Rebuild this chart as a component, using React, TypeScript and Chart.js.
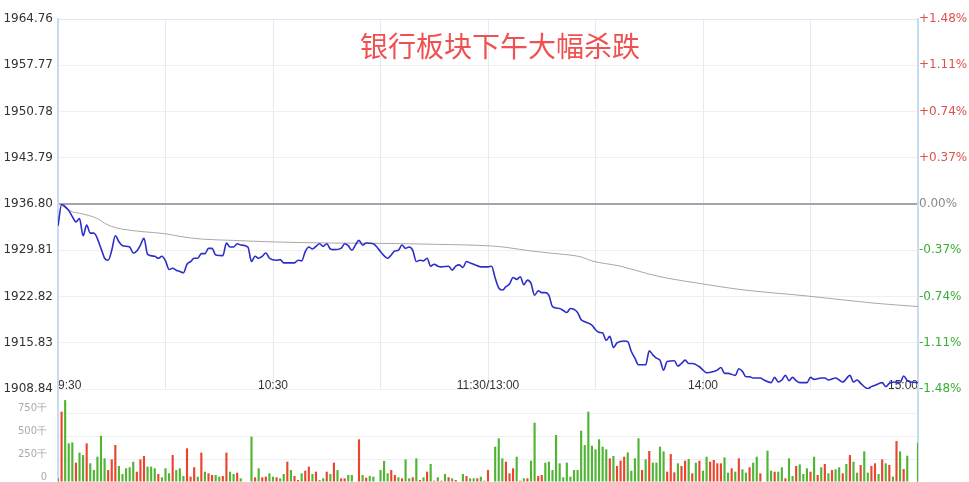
import React, { useEffect, useRef } from 'react';
import { Chart, registerables } from 'chart.js';

Chart.register(...registerables);

// minutes since 9:30 (lunch break removed), 0..240
const priceMinutes = [
  0, 1, 3, 4, 5, 6, 7, 8, 9, 10, 12, 13, 14, 15, 16, 17, 18, 20, 21, 22, 23, 24, 25, 27, 28, 29,
  30, 31, 32, 33, 34, 35, 36, 37, 38, 39, 40, 41, 42, 43, 44, 46, 47, 48, 49, 50, 51, 53, 54, 55,
  56, 57, 58, 59, 61, 62, 63, 65, 66, 67, 68, 69, 70, 71, 72, 73, 74, 75, 76, 77, 79, 80, 81, 82,
  83, 84, 85, 86, 88, 89, 90, 92, 93, 94, 95, 96, 97, 98, 99, 100, 101, 102, 103, 104, 105, 106,
  107, 109, 110, 111, 112, 113, 114, 115, 116, 118, 120, 121, 122, 123, 124, 125, 126, 127, 128,
  129, 130, 131, 132, 133, 134, 135, 136, 137, 138, 140, 141, 142, 143, 145, 146, 147, 149, 150,
  151, 152, 153, 154, 155, 156, 158, 159, 160, 161, 162, 164, 165, 166, 167, 168, 169, 170, 172,
  173, 174, 175, 176, 177, 179, 180, 181, 183, 184, 185, 186, 187, 189, 190, 191, 192, 193, 194,
  196, 197, 199, 200, 201, 202, 203, 204, 205, 206, 207, 209, 210, 211, 213, 214, 215, 217, 218,
  219, 221, 222, 223, 224, 226, 227, 228, 230, 231, 232, 234, 235, 236, 237, 238, 240,
];
const priceValues = [
  1933.5, 1936.7, 1935.8, 1934.9, 1934.1, 1934.6, 1932.0, 1933.6, 1932.4, 1932.4, 1930.1, 1928.6,
  1928.3, 1929.8, 1932.0, 1931.1, 1930.5, 1930.3, 1929.4, 1929.7, 1930.6, 1931.6, 1929.2, 1928.9,
  1928.6, 1928.9, 1928.2, 1926.9, 1927.1, 1926.8, 1926.6, 1926.4, 1927.7, 1928.1, 1928.6, 1928.6,
  1929.3, 1929.3, 1930.1, 1930.1, 1929.1, 1929.0, 1930.9, 1930.3, 1930.3, 1930.8, 1930.6, 1930.3,
  1928.1, 1928.9, 1928.6, 1928.9, 1929.4, 1928.6, 1928.3, 1928.4, 1927.9, 1927.9, 1927.9, 1928.3,
  1928.2, 1929.6, 1930.3, 1930.0, 1930.4, 1930.8, 1930.4, 1930.8, 1930.0, 1929.9, 1930.1, 1930.8,
  1930.5, 1929.8, 1930.6, 1931.3, 1930.6, 1930.9, 1930.8, 1930.3, 1929.6, 1928.6, 1929.1, 1929.7,
  1929.8, 1930.6, 1930.1, 1930.3, 1929.8, 1928.1, 1928.3, 1928.2, 1928.6, 1927.4, 1927.7, 1927.4,
  1927.3, 1927.4, 1926.8, 1927.4, 1927.6, 1927.2, 1928.1, 1927.9, 1927.7, 1927.3, 1927.3, 1927.4,
  1925.6, 1924.1, 1923.8, 1924.3, 1924.7, 1925.7, 1925.4, 1925.8, 1924.6, 1925.3, 1924.8, 1923.0,
  1923.7, 1923.4, 1923.4, 1923.0, 1921.3, 1921.0, 1920.7, 1920.4, 1921.0, 1920.4, 1919.3, 1919.0,
  1918.5, 1917.8, 1917.4, 1917.3, 1916.2, 1916.8, 1915.1, 1915.8, 1916.1, 1916.0, 1914.5, 1913.5,
  1912.5, 1912.5, 1914.6, 1914.0, 1913.5, 1913.2, 1911.7, 1913.0, 1913.1, 1912.3, 1912.7, 1913.2,
  1912.7, 1912.7, 1912.2, 1911.7, 1911.3, 1911.5, 1911.7, 1912.1, 1911.2, 1911.2, 1910.9, 1911.9,
  1911.5, 1910.7, 1910.7, 1910.5, 1910.5, 1910.2, 1909.8, 1910.6, 1909.9, 1910.2, 1910.9, 1910.1,
  1910.6, 1910.1, 1909.8, 1909.8, 1910.6, 1910.3, 1910.5, 1910.5, 1910.2, 1910.5, 1910.2, 1909.9,
  1910.9, 1909.9, 1910.2, 1909.7, 1908.9, 1909.2, 1909.4, 1909.8, 1909.2, 1909.7, 1909.9, 1909.8,
  1910.8, 1910.1, 1909.9, 1909.8,
];

const avgMinutes = [
  1, 4, 6, 11, 13, 15, 18, 24, 30, 34, 40, 49, 58, 76, 90, 106, 121, 125, 132, 138, 146, 149, 157,
  165, 170, 179, 190, 209, 228, 240,
];
const avgValues = [
  1936.6, 1935.6, 1935.4, 1934.6, 1933.9, 1933.4, 1933.0, 1932.6, 1932.3, 1931.9, 1931.5, 1931.3,
  1931.1, 1930.9, 1930.85, 1930.7, 1930.45, 1930.25, 1929.7, 1929.35, 1928.8, 1928.2, 1927.4,
  1926.2, 1925.6, 1924.8, 1923.9, 1922.9, 1921.8, 1921.3,
];

const priceTicks = [1908.84, 1915.83, 1922.82, 1929.81, 1936.8, 1943.79, 1950.78, 1957.77, 1964.76];
const prevClose = 1936.8;
const pctTicks = [-1.48, -1.11, -0.74, -0.37, 0, 0.37, 0.74, 1.11, 1.48];
const timeTickValues = [0, 30, 60, 90, 120, 150, 180, 210, 240];
const timeTickLabels = ['9:30', '', '10:30', '', '11:30/13:00', '', '14:00', '', '15:00'];

// volume per minute, in 千
const volumes = [
  40, 765, 890, 420, 430, 210, 320, 293, 420, 203, 130, 275, 503, 257, 130, 246, 402, 174, 87, 149,
  160, 221, 112, 246, 283, 167, 167, 149, 87, 51, 149, 94, 293, 130, 149, 65, 366, 58, 160, 58,
  320, 112, 94, 76, 76, 58, 65, 320, 112, 87, 101, 40, 0, 0, 493, 51, 149, 51, 58, 94,
  58, 51, 40, 87, 221, 130, 65, 22, 94, 123, 167, 87, 112, 22, 40, 112, 87, 210, 130, 40,
  40, 76, 76, 0, 464, 76, 47, 65, 58, 0, 130, 228, 94, 130, 76, 51, 40, 246, 40, 51,
  257, 22, 51, 112, 196, 14, 51, 14, 87, 51, 40, 22, 0, 87, 65, 40, 40, 40, 58, 14,
  130, 0, 384, 475, 257, 221, 94, 149, 275, 14, 40, 40, 232, 645, 65, 76, 210, 221, 130, 511,
  203, 51, 210, 58, 130, 130, 558, 402, 765, 395, 355, 464, 384, 355, 257, 283, 174, 232, 275, 322,
  123, 257, 475, 130, 246, 337, 210, 210, 384, 333, 112, 304, 105, 203, 174, 232, 250, 94, 210, 232,
  123, 275, 221, 239, 203, 203, 268, 101, 149, 112, 257, 138, 101, 160, 210, 275, 94, 0, 340, 123,
  112, 112, 160, 40, 257, 65, 174, 192, 87, 149, 112, 275, 76, 160, 196, 94, 130, 138, 160, 94,
  196, 293, 221, 101, 185, 333, 101, 174, 203, 87, 246, 203, 185, 58, 446, 333, 141, 286, 0, 0,
  427,
];
// 1 = price rose (red), 0 = price fell (green)
const volumeUp = [
  0, 1, 0, 0, 0, 1, 0, 0, 1, 0, 0, 0, 0, 0, 1, 1, 1, 0, 0, 0,
  0, 0, 1, 1, 1, 0, 0, 0, 1, 0, 0, 0, 1, 0, 0, 0, 1, 1, 1, 0,
  1, 0, 1, 1, 0, 0, 1, 1, 0, 0, 1, 0, 0, 0, 0, 1, 0, 1, 1, 0,
  0, 1, 0, 0, 1, 0, 1, 1, 0, 1, 1, 0, 1, 0, 0, 1, 0, 1, 0, 1,
  1, 0, 0, 0, 1, 0, 1, 0, 0, 0, 0, 0, 0, 1, 1, 0, 1, 0, 0, 1,
  0, 1, 0, 1, 0, 1, 0, 1, 0, 1, 0, 1, 0, 0, 1, 0, 0, 1, 0, 0,
  1, 0, 0, 0, 0, 1, 1, 1, 0, 1, 0, 1, 0, 0, 1, 1, 0, 0, 0, 0,
  0, 0, 0, 0, 0, 0, 0, 0, 0, 0, 0, 0, 0, 0, 1, 0, 1, 1, 1, 0,
  0, 0, 0, 1, 0, 1, 0, 0, 0, 0, 1, 1, 1, 0, 1, 1, 0, 1, 0, 1,
  0, 0, 1, 1, 1, 1, 0, 0, 1, 0, 1, 0, 0, 1, 0, 0, 1, 0, 0, 0,
  1, 0, 0, 1, 0, 0, 1, 0, 0, 0, 1, 0, 1, 0, 1, 0, 1, 0, 0, 1,
  0, 1, 0, 0, 1, 0, 0, 1, 1, 0, 1, 0, 1, 0, 1, 0, 1, 0, 0, 0,
  0,
];
const volTicks = [0, 250, 500, 750];
const volTickLabels = ['0', '250千', '500千', '750千'];

const TITLE = '银行板块下午大幅杀跌';

const AXIS_BLUE = '#c9dbef';
const RED = '#e9452f';
const GREEN = '#4fb532';

const noPad = (s: any) => {
  s.paddingTop = 0;
  s.paddingBottom = 0;
  s.paddingLeft = 0;
  s.paddingRight = 0;
};

export default function App() {
  const priceRef = useRef<HTMLCanvasElement>(null);
  const volRef = useRef<HTMLCanvasElement>(null);

  useEffect(() => {
    const priceChart = new Chart(priceRef.current as HTMLCanvasElement, {
      type: 'line',
      data: {
        datasets: [
          {
            label: 'price',
            data: priceMinutes.map((m, i) => ({ x: m, y: priceValues[i] })),
            borderColor: '#2c2ec8',
            borderWidth: 1.6,
            pointRadius: 0,
            cubicInterpolationMode: 'monotone',
            yAxisID: 'y',
          },
          {
            label: 'avg',
            data: avgMinutes.map((m, i) => ({ x: m, y: avgValues[i] })),
            borderColor: '#a8a8a8',
            borderWidth: 1,
            pointRadius: 0,
            cubicInterpolationMode: 'monotone',
            yAxisID: 'y',
          },
        ],
      },
      options: {
        animation: false,
        responsive: true,
        maintainAspectRatio: false,
        layout: { padding: { top: 19, left: 0, right: 0, bottom: 0 } },
        plugins: { legend: { display: false }, tooltip: { enabled: false } },
        scales: {
          x: {
            type: 'linear',
            min: 0,
            max: 240,
            afterBuildTicks: (s: any) => {
              s.ticks = timeTickValues.map((v) => ({ value: v }));
            },
            afterFit: (s: any) => {
              s.height = 11;
              noPad(s);
            },
            grid: { color: '#e2eaf3', drawTicks: false },
            border: { display: false },
            ticks: {
              autoSkip: false,
              maxRotation: 0,
              align: 'inner',
              mirror: true,
              padding: -4,
              color: '#333',
              font: { family: 'Liberation Sans', size: 12 },
              callback: (_v: any, i: number) => timeTickLabels[i],
            },
          },
          y: {
            position: 'left',
            min: priceTicks[0],
            max: priceTicks[priceTicks.length - 1],
            afterBuildTicks: (s: any) => {
              s.ticks = priceTicks.map((v) => ({ value: v }));
            },
            afterFit: (s: any) => {
              s.width = 58;
              noPad(s);
            },
            grid: {
              drawTicks: false,
              color: (ctx: any) =>
                Math.abs(ctx.tick.value - prevClose) < 1e-6
                  ? '#a4a4ac'
                  : ctx.index === priceTicks.length - 1
                  ? '#dbe6f2'
                  : '#efefef',
              lineWidth: (ctx: any) => (Math.abs(ctx.tick.value - prevClose) < 1e-6 ? 2 : 1),
            },
            border: { color: AXIS_BLUE, width: 2 },
            ticks: {
              padding: 5,
              color: '#333',
              font: { family: 'DejaVu Sans', size: 12 },
              callback: (v: any) => Number(v).toFixed(2),
            },
          },
          yPct: {
            position: 'right',
            min: pctTicks[0],
            max: pctTicks[pctTicks.length - 1],
            afterBuildTicks: (s: any) => {
              s.ticks = pctTicks.map((v) => ({ value: v }));
            },
            afterFit: (s: any) => {
              s.width = 51;
              noPad(s);
            },
            grid: { display: false, drawTicks: false },
            border: { color: AXIS_BLUE, width: 2 },
            ticks: {
              padding: 1,
              font: { family: 'DejaVu Sans', size: 12 },
              color: (ctx: any) =>
                ctx.tick.value > 1e-6 ? '#d9534f' : ctx.tick.value < -1e-6 ? '#3aad34' : '#8a8a8a',
              callback: (v: any) => {
                const n = Number(v);
                return (n > 1e-6 ? '+' : '') + n.toFixed(2) + '%';
              },
            },
          },
        },
      } as any,
    });

    const volChart = new Chart(volRef.current as HTMLCanvasElement, {
      type: 'bar',
      data: {
        labels: volumes.map((_, i) => String(i)),
        datasets: [
          {
            label: 'volume',
            data: volumes,
            backgroundColor: volumeUp.map((u) => (u ? RED : GREEN)),
            barPercentage: 0.6,
            categoryPercentage: 1,
            yAxisID: 'y',
          },
        ],
      },
      options: {
        animation: false,
        responsive: true,
        maintainAspectRatio: false,
        layout: { padding: 0 },
        plugins: { legend: { display: false }, tooltip: { enabled: false } },
        scales: {
          x: {
            display: false,
            offset: false,
            grid: { offset: false },
            afterFit: (s: any) => noPad(s),
          },
          y: {
            position: 'left',
            min: 0,
            max: 1000,
            afterBuildTicks: (s: any) => {
              s.ticks = volTicks.map((v) => ({ value: v }));
            },
            afterFit: (s: any) => {
              s.width = 58;
              noPad(s);
            },
            grid: { color: '#edf1f6', drawTicks: false },
            border: { color: AXIS_BLUE, width: 2 },
            ticks: {
              padding: 11,
              labelOffset: -5,
              color: '#aaa',
              font: { family: 'DejaVu Sans', size: 10 },
              callback: (_v: any, i: number) => volTickLabels[i],
            },
          },
          yR: {
            position: 'right',
            afterFit: (s: any) => {
              s.width = 51;
              noPad(s);
            },
            grid: { display: false, drawTicks: false },
            border: { color: AXIS_BLUE, width: 2 },
            ticks: { display: false },
          },
        },
      } as any,
    });

    return () => {
      priceChart.destroy();
      volChart.destroy();
    };
  }, []);

  return (
    <div
      style={{
        position: 'fixed',
        left: 0,
        top: 0,
        width: 969,
        height: 482,
        background: '#fff',
        overflow: 'hidden',
      }}
    >
      <div style={{ position: 'absolute', left: 0, top: 390, width: 969, height: 92 }}>
        <canvas ref={volRef} />
      </div>
      <div style={{ position: 'absolute', left: 0, top: 0, width: 969, height: 400 }}>
        <canvas ref={priceRef} />
      </div>
      <div
        style={{
          position: 'absolute',
          left: 360,
          top: 30,
          fontFamily: '"Noto Sans CJK SC", sans-serif',
          fontSize: 28,
          lineHeight: '30px',
          color: '#f0504f',
          whiteSpace: 'nowrap',
        }}
      >
        {TITLE}
      </div>
    </div>
  );
}
